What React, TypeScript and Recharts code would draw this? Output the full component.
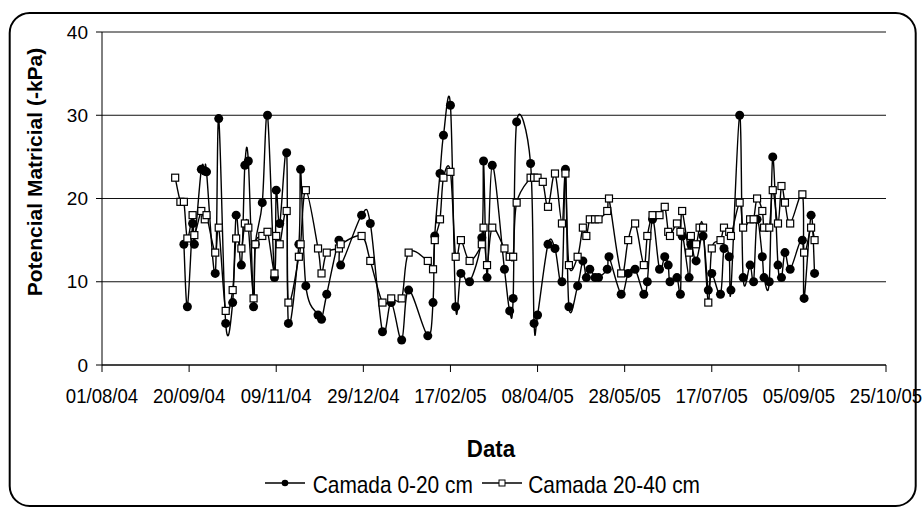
import { LineChart, Line, XAxis, YAxis, CartesianGrid } from "recharts";

// leituras (dd/mm/yy)
const dates = [
  "12/09/04", "15/09/04", "17/09/04", "19/09/04", "22/09/04", "23/09/04", "27/09/04", "29/09/04", "30/09/04",
  "05/10/04", "07/10/04", "11/10/04", "15/10/04", "17/10/04", "20/10/04", "22/10/04", "24/10/04", "27/10/04", "28/10/04",
  "01/11/04", "04/11/04", "08/11/04", "09/11/04", "11/11/04", "15/11/04", "16/11/04", "22/11/04", "23/11/04", "26/11/04",
  "03/12/04", "05/12/04", "08/12/04", "15/12/04", "16/12/04", "28/12/04",
  "02/01/05", "09/01/05", "14/01/05", "20/01/05", "24/01/05",
  "04/02/05", "07/02/05", "08/02/05", "11/02/05", "13/02/05", "17/02/05", "20/02/05", "23/02/05", "28/02/05",
  "07/03/05", "08/03/05", "10/03/05", "13/03/05", "20/03/05", "23/03/05", "25/03/05", "27/03/05",
  "04/04/05", "06/04/05", "08/04/05", "11/04/05", "14/04/05", "18/04/05", "22/04/05", "24/04/05", "26/04/05",
  "01/05/05", "04/05/05", "06/05/05", "08/05/05", "11/05/05", "13/05/05", "18/05/05", "19/05/05", "26/05/05", "30/05/05",
  "03/06/05", "08/06/05", "10/06/05", "13/06/05", "17/06/05", "20/06/05", "22/06/05", "23/06/05", "27/06/05", "29/06/05", "30/06/05",
  "04/07/05", "05/07/05", "08/07/05", "10/07/05", "12/07/05", "15/07/05", "17/07/05", "22/07/05", "24/07/05", "27/07/05", "28/07/05",
  "02/08/05", "04/08/05", "08/08/05", "10/08/05", "12/08/05", "15/08/05", "16/08/05", "19/08/05", "21/08/05", "24/08/05", "26/08/05", "28/08/05", "31/08/05",
  "07/09/05", "08/09/05", "12/09/05", "14/09/05",
];

const camada0_20 = [
  null, null, 14.5, 7, 17, 14.5, 23.5, 23.3, 23.2,
  11, 29.6, 5, 7.5, 18, 12, 24, 24.5, 7, 14.5,
  19.5, 30, 10.5, 21, 17, 25.5, 5, 14.5, 23.5, 9.5,
  6, 5.5, 8.5, 15, 12, 18,
  17, 4, 7.5, 3, 9,
  3.5, 7.5, 15.5, 23, 27.6, 31.2, 7, 11, 10,
  15.3, 24.5, 10.5, 24, 11.5, 6.5, 8, 29.2,
  24.2, 5, 6, null, 14.5, 14, 10, 23.5, 7,
  9.5, 12.5, 10.5, 11.5, 10.5, 10.5, 11.5, 13, 8.5, 11,
  11.5, 8.5, 10, 17.5, 11.5, 13, 12, 10, 10.5, 8.5, 15.5,
  10.5, 14.5, 12.5, null, 15.5, 9, 11, 8.5, 14, 13, 9,
  30, 10.5, 12, 10, 17.5, 13, 10.5, 10, 25, 12, 10.5, 13.5, 11.5,
  15, 8, 18, 11,
];

const camada20_40 = [
  22.5, 19.6, 19.6, 15.2, 18, 15.6, 18.5, 17.5, 18,
  13.5, 16.5, 6.5, 9, 15.2, 14, 17, 16.5, 8, 14.5,
  15.5, 16, 11, 15.5, 14.5, 18.5, 7.5, 13, 14.5, 21,
  14, 11, 13.5, 14, 14.5, 15.5,
  12.5, 7.5, 8, 8, 13.5,
  12.5, 11.5, 15, 17.5, 22.5, 23.2, 13, 15, 12.5,
  14.5, 16.5, 12, 16.5, 14, 13, 13, 19.5,
  22.5, 22.5, 22.5, 22, 19, 23, 17, 23, 12,
  13, 16.5, 15.5, 17.5, 17.5, 17.5, 18.5, 20, 11, 15,
  17, 12, 15.5, 18, 18, 19, 16, 15.5, 17, 16, 18.5,
  13.5, 15.5, 14.5, 16.5, 16.5, 7.5, 14, 15, 16.5, 16, 15.5,
  19.5, 16.5, 17.5, 17.5, 20, 18.5, 16.5, 16.5, 21, 17, 21.5, 19.5, 17,
  20.5, 13.5, 16.5, 15,
];

const xTickLabels = ["01/08/04", "20/09/04", "09/11/04", "29/12/04", "17/02/05", "08/04/05", "28/05/05", "17/07/05", "05/09/05", "25/10/05"];
const yTicks = [0, 10, 20, 30, 40];

const toDay = (s: string) => {
  const [d, m, y] = s.split("/").map(Number);
  return Date.UTC(2000 + y, m - 1, d) / 86400000;
};

const xTicks = xTickLabels.map(toDay);
const data = dates.map((d, i) => ({ t: toDay(d), a: camada0_20[i], b: camada20_40[i] }));

const font = "'Liberation Sans', Arial, sans-serif";

// suavizacao tipo Excel (bezier com tangentes de Catmull-Rom)
const excelSmooth = (context: any) => {
  let pts: number[][] = [];
  return {
    areaStart() {},
    areaEnd() {},
    lineStart() {
      pts = [];
    },
    point(x: number, y: number) {
      pts.push([+x, +y]);
    },
    lineEnd() {
      const n = pts.length;
      if (!n) return;
      context.moveTo(pts[0][0], pts[0][1]);
      for (let i = 1; i < n; i++) {
        const p0 = pts[Math.max(i - 2, 0)];
        const p1 = pts[i - 1];
        const p2 = pts[i];
        const p3 = pts[Math.min(i + 1, n - 1)];
        context.bezierCurveTo(
          p1[0] + (p2[0] - p0[0]) / 6,
          p1[1] + (p2[1] - p0[1]) / 6,
          p2[0] - (p3[0] - p1[0]) / 6,
          p2[1] - (p3[1] - p1[1]) / 6,
          p2[0],
          p2[1]
        );
      }
    },
  };
};

function DateTick({ x, y, payload }: any) {
  const i = xTicks.indexOf(payload.value);
  return (
    <g transform={`translate(${x},${y}) scale(0.93,1)`}>
      <text x={0} y={0} dy={29} textAnchor="middle" fontSize={20} fontFamily={font} fill="#000">
        {i >= 0 ? xTickLabels[i] : ""}
      </text>
    </g>
  );
}

function SquareDot(p: any) {
  if (p.cx == null || p.cy == null) return <g key={`sq-${p.index}`} />;
  return <rect key={`sq-${p.index}`} x={p.cx - 3.5} y={p.cy - 3.5} width={7} height={7} fill="#fff" stroke="#000" strokeWidth={1.2} />;
}

export default function App() {
  return (
    <div style={{ position: "absolute", left: 0, top: 0, width: 923, height: 508, background: "#fff" }}>
      <LineChart width={923} height={508} data={data} margin={{ top: 32, right: 37, left: 0, bottom: 83 }}>
        <CartesianGrid vertical={false} stroke="#111" strokeWidth={1} />
        <XAxis
          dataKey="t"
          type="number"
          domain={[xTicks[0], xTicks[xTicks.length - 1]]}
          ticks={xTicks}
          height={60}
          tickSize={7}
          tickMargin={2}
          tick={<DateTick />}
          axisLine={{ stroke: "#000" }}
          tickLine={{ stroke: "#000" }}
        />
        <YAxis
          domain={[0, 40]}
          ticks={yTicks}
          width={102}
          tickSize={6}
          tickMargin={8}
          tick={{ fontSize: 19, fill: "#000", fontFamily: font }}
          axisLine={{ stroke: "#000" }}
          tickLine={{ stroke: "#000" }}
        />
        <Line
          dataKey="a"
          type={excelSmooth as any}
          stroke="#000"
          strokeWidth={1.4}
          connectNulls
          dot={{ r: 4.5, fill: "#000", stroke: "#000", strokeWidth: 0 }}
          isAnimationActive={false}
        />
        <Line
          dataKey="b"
          type={excelSmooth as any}
          stroke="#000"
          strokeWidth={1.4}
          connectNulls
          dot={SquareDot}
          isAnimationActive={false}
        />
      </LineChart>
      <svg width={923} height={508} style={{ position: "absolute", left: 0, top: 0, pointerEvents: "none" }}>
        <rect x={9.7} y={13} width={906} height={493} rx={20} fill="none" stroke="#000" strokeWidth={2} />
        <text
          transform="translate(34,172) rotate(-90)"
          textAnchor="middle"
          dominantBaseline="central"
          fontSize={21}
          fontWeight="bold"
          fontFamily={font}
        >
          Potencial Matricial (-kPa)
        </text>
        <text transform="translate(491,457) scale(0.93,1)" textAnchor="middle" fontSize={24} fontWeight="bold" fontFamily={font}>
          Data
        </text>
        <line x1={265} y1={483} x2={305} y2={483} stroke="#000" strokeWidth={1.4} />
        <circle cx={285} cy={483} r={3.3} fill="#000" />
        <text transform="translate(312.7,492.7) scale(0.87,1)" fontSize={24} fontFamily={font}>
          Camada 0-20 cm
        </text>
        <line x1={482} y1={483} x2={522} y2={483} stroke="#000" strokeWidth={1.4} />
        <rect x={499} y={480} width={6} height={6} fill="#fff" stroke="#000" strokeWidth={1} />
        <text transform="translate(528.3,492.7) scale(0.87,1)" fontSize={24} fontFamily={font}>
          Camada 20-40 cm
        </text>
      </svg>
    </div>
  );
}
